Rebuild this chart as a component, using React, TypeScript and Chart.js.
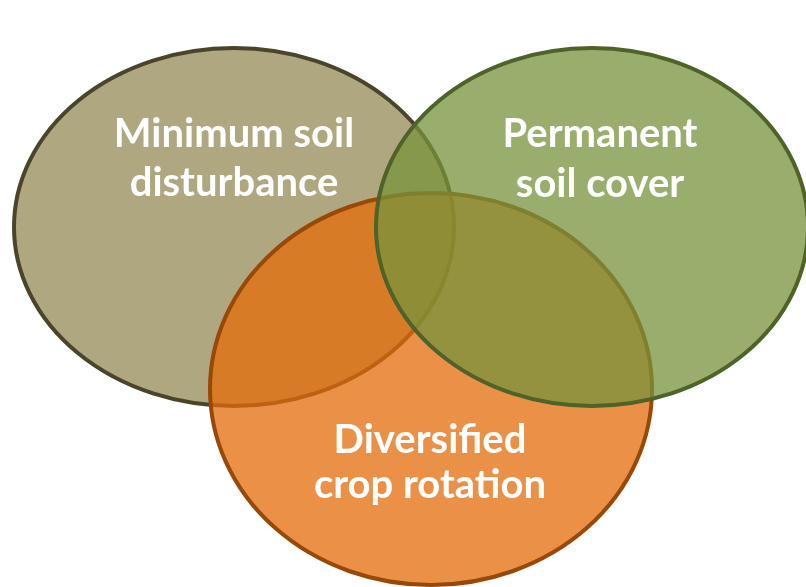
import React, { useEffect, useRef } from "react";
import { Chart, registerables } from "chart.js";

Chart.register(...registerables);

// Venn sets (data units: abstract plane 0..806 x 0..587, y downwards)
const setNames = ["Minimum soil disturbance", "Permanent soil cover", "Diversified crop rotation"];
const centerX = [234, 592, 431];
const centerY = [227, 227, 389];
const radiusX = [220, 216, 221];
const radiusY = [179, 179, 196];
const labelLines = [
  ["Minimum soil", "disturbance"],
  ["Permanent", "soil cover"],
  ["Diversified", "crop rotation"],
];

// label layout (baselines of each line)
const labelX = [234, 600, 430];
const labelBaseline = [
  [147, 196],
  [147, 197],
  [453, 498],
];

const fillColors = ["rgba(148,138,84,0.75)", "rgba(119,147,60,0.75)", "rgba(228,108,10,0.75)"];
const strokeColors = ["#4A452A", "#4F6228", "#984807"];
const drawOrder = [0, 2, 1];

const vennPlugin = {
  id: "venn",
  afterDatasetsDraw(chart: any) {
    const { ctx, scales } = chart;
    const xs = scales.x;
    const ys = scales.y;
    ctx.save();
    for (const i of drawOrder) {
      const cx = xs.getPixelForValue(centerX[i]);
      const cy = ys.getPixelForValue(centerY[i]);
      const rx = Math.abs(xs.getPixelForValue(centerX[i] + radiusX[i]) - cx);
      const ry = Math.abs(ys.getPixelForValue(centerY[i] + radiusY[i]) - cy);
      ctx.beginPath();
      ctx.ellipse(cx, cy, rx, ry, 0, 0, Math.PI * 2);
      ctx.fillStyle = fillColors[i];
      ctx.fill();
      ctx.lineWidth = 4;
      ctx.strokeStyle = strokeColors[i];
      ctx.stroke();
    }
    ctx.fillStyle = "#FFFFFF";
    ctx.font = "bold 40px Lato, 'Open Sans', sans-serif";
    ctx.textAlign = "center";
    ctx.textBaseline = "alphabetic";
    for (let i = 0; i < labelLines.length; i++) {
      const lx = xs.getPixelForValue(labelX[i]);
      labelLines[i].forEach((t, k) => {
        ctx.fillText(t, lx, ys.getPixelForValue(labelBaseline[i][k]));
      });
    }
    ctx.restore();
  },
};

export default function App() {
  const ref = useRef<HTMLCanvasElement | null>(null);
  useEffect(() => {
    if (!ref.current) return;
    const chart = new Chart(ref.current, {
      type: "scatter",
      data: {
        datasets: [
          {
            label: "Sets",
            data: setNames.map((_, i) => ({ x: centerX[i], y: centerY[i] })),
            pointRadius: 0,
            pointHoverRadius: 0,
          },
        ],
      },
      options: {
        animation: false,
        responsive: true,
        maintainAspectRatio: false,
        layout: { padding: 0 },
        plugins: { legend: { display: false }, tooltip: { enabled: false } },
        scales: {
          x: { type: "linear", min: 0, max: 806, display: false },
          y: { type: "linear", min: 0, max: 587, reverse: true, display: false },
        },
      },
      plugins: [vennPlugin],
    });
    return () => chart.destroy();
  }, []);
  return (
    <div style={{ position: "fixed", left: 0, top: 0, width: 806, height: 587, background: "#fff" }}>
      <canvas ref={ref} />
    </div>
  );
}
